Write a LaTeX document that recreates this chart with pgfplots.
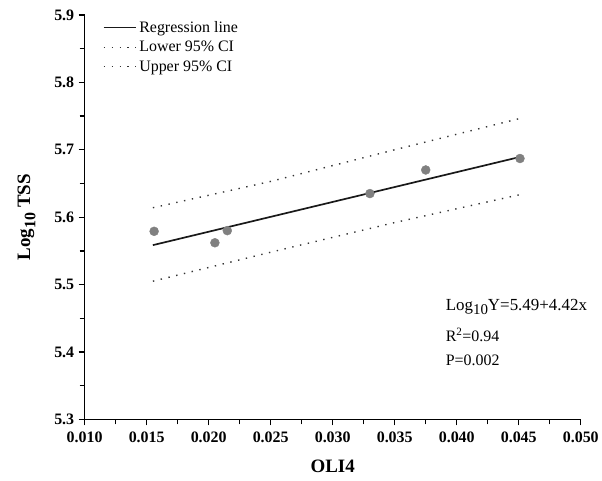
\documentclass[border=0pt]{standalone}
\usepackage{pgfplots}
\pgfplotsset{compat=1.18}
\usepackage{fontspec}
\setmainfont{Liberation Serif}
\begin{document}
\begin{tikzpicture}
\begin{axis}[
  scale only axis, width=498pt, height=406pt,
  xmin=0.010, xmax=0.050, ymin=5.3, ymax=5.9,
  axis lines*=left,
  x axis line style={line width=1.6pt},
  y axis line style={line width=0.5pt},
  xtick={0.010,0.015,...,0.050},
  minor xtick={0.0125,0.0175,...,0.0475},
  ytick={5.3,5.4,...,5.9},
  minor ytick={5.35,5.45,...,5.85},
  tick align=outside,
  major tick length=6pt, minor tick length=5pt,
  tick style={line width=1.3pt, black},
  xticklabel style={yshift=-3pt, font=\fontsize{16}{18}\selectfont\bfseries, /pgf/number format/.cd, fixed, fixed zerofill, precision=3},
  yticklabel style={xshift=-1pt, font=\fontsize{16}{18}\selectfont\bfseries, /pgf/number format/.cd, fixed, fixed zerofill, precision=1},
  scaled x ticks=false,
  /pgf/number format/assume math mode=true,
  xlabel={\textbf{OLI4}}, xlabel style={font=\fontsize{19}{21}\selectfont, yshift=-10pt},
  ylabel={\textbf{Log\raisebox{-0.6ex}{\fontsize{16}{16}\selectfont 10} TSS}}, ylabel style={font=\fontsize{19}{21}\selectfont, yshift=12pt},
  legend style={draw=none, fill=none, at={(0.03,0.995)}, anchor=north west, font=\fontsize{16}{18}\selectfont, row sep=3.5pt},
  legend cell align=left,
  legend image code/.code={\draw[#1] (0pt,0pt) -- (33pt,0pt);},
  clip=false,
]
\addplot[black!90, line width=1.7pt] coordinates {(0.0155,5.5585) (0.0450,5.6889)};
\addlegendentry{Regression line}
\addplot[black!80, line width=1.4pt, dash pattern=on 1.4pt off 6.6pt] coordinates {(0.0155,5.505) (0.0250,5.548) (0.0350,5.592) (0.0450,5.633)};
\addlegendentry{Lower 95\% CI}
\addplot[black!80, line width=1.4pt, dash pattern=on 1.4pt off 6.6pt] coordinates {(0.0155,5.614) (0.0250,5.653) (0.0350,5.700) (0.0450,5.746)};
\addlegendentry{Upper 95\% CI}
\addplot[only marks, mark=*, mark size=4.5pt, color=black!50, forget plot] coordinates {
(0.0156,5.579) (0.0205,5.562) (0.0215,5.580) (0.0330,5.635) (0.0375,5.670) (0.0451,5.687)};
\node[anchor=base west, font=\fontsize{17}{19}\selectfont, inner sep=0pt] at (axis cs:0.0391,5.461) {Log\raisebox{-0.5ex}{\fontsize{15}{15}\selectfont 10}Y=5.49+4.42x};
\node[anchor=base west, font=\fontsize{16}{18}\selectfont, inner sep=0pt] at (axis cs:0.0391,5.415) {R\textsuperscript{2}=0.94};
\node[anchor=base west, font=\fontsize{16}{18}\selectfont, inner sep=0pt] at (axis cs:0.0391,5.380) {P=0.002};
\end{axis}
\path (current axis.south west) ++(-85pt,-61pt) rectangle ++(602pt,482pt);
\end{tikzpicture}
\end{document}
